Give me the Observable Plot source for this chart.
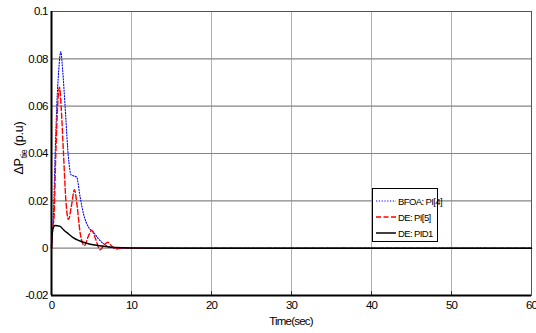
<!DOCTYPE html>
<html>
<head>
<meta charset="utf-8">
<script src="https://cdn.jsdelivr.net/npm/d3@7"></script>
<script src="https://cdn.jsdelivr.net/npm/@observablehq/plot@0.6"></script>
<style>
  html, body { margin: 0; padding: 0; background: #fff; }
  #wrap { position: relative; width: 536px; height: 333px; font-family: "Liberation Sans", Arial, sans-serif; }
  #wrap svg text { letter-spacing: -0.8px; }
  #wrap svg text.ylab { letter-spacing: -0.2px; }
  #legend { position: absolute; left: 372px; top: 188px; width: 66px; height: 54px; border: 1px solid #000; background: #fff; font-size: 9.5px; letter-spacing: -0.6px; box-sizing: border-box; white-space: nowrap; }
  #legend .row { position: absolute; left: 3px; height: 12px; display: flex; align-items: center; }
  #legend svg { display: block; margin-right: 2px; }
</style>
</head>
<body>
<div id="wrap"></div>
<script>
// ---- data ----
const seriesNames = ["BFOA: PI[4]", "DE: PI[5]", "DE: PID1"];

const tBFOA = [0, 0.25, 0.46, 0.66, 0.9, 1.16, 1.4, 1.7, 2.1, 2.45, 2.8, 3.15, 3.58, 4.0, 4.62, 5.24, 5.87, 6.5, 7.0, 7.5, 8.5, 10, 20, 30, 40, 50, 60];
const vBFOA = [0, 0.015, 0.040, 0.060, 0.075, 0.083, 0.075, 0.060, 0.039, 0.031, 0.0305, 0.030, 0.0216, 0.0145, 0.0089, 0.0068, 0.004, 0.0019, 0.0008, 0.0003, 0, 0, 0, 0, 0, 0, 0];

const tDE = [0, 0.15, 0.3, 0.54, 0.8, 1.0, 1.2, 1.5, 1.8, 2.12, 2.5, 2.87, 3.2, 3.6, 4.12, 4.6, 5.03, 5.5, 6.07, 6.5, 7.02, 7.5, 7.95, 9, 10, 20, 30, 40, 50, 60];
const vDE = [0, 0.009, 0.012, 0.040, 0.062, 0.068, 0.060, 0.040, 0.020, 0.0121, 0.018, 0.0247, 0.018, 0.006, 0.0011, 0.005, 0.0075, 0.004, -0.0007, 0.001, 0.0025, 0.001, -0.0003, 0, 0, 0, 0, 0, 0, 0];

const tPID = [0, 0.15, 0.46, 1.08, 1.5, 2.1, 2.7, 3.37, 4.0, 4.6, 5.4, 6.3, 7.0, 8.0, 10, 20, 30, 40, 50, 60];
const vPID = [0, 0.008, 0.0096, 0.0092, 0.0078, 0.0061, 0.0045, 0.0033, 0.0025, 0.0019, 0.0013, 0.0009, 0.0006, 0.0003, 0.0001, 0, 0, 0, 0, 0];

const xTicks = [0, 10, 20, 30, 40, 50, 60];
const yTicks = [-0.02, 0, 0.02, 0.04, 0.06, 0.08, 0.1];
const yGrid = [0, 0.02, 0.04, 0.06, 0.08];
const xGrid = [10, 20, 30, 40, 50];

const toRows = (ts, vs) => ts.map((t, i) => ({t, v: vs[i]}));
const bfoa = toRows(tBFOA, vBFOA);
const de = toRows(tDE, vDE);
const pid = toRows(tPID, vPID);

const styles = [
  {stroke: "#0000ff", strokeWidth: 1.1, dash: "1.2,1.6"},
  {stroke: "#ff0000", strokeWidth: 1.4, dash: "5,2.5"},
  {stroke: "#000000", strokeWidth: 1.5, dash: null}
];

const fmt = d => String(+d.toFixed(2));
const yMin = -0.02, yMax = 0.1;
const tickLen = (yMax - yMin) * 4 / 284;

const chart = Plot.plot({
  width: 536,
  height: 333,
  marginLeft: 51,
  marginRight: 5,
  marginTop: 11,
  marginBottom: 38,
  style: {fontFamily: "'Liberation Sans', Arial, sans-serif", fontSize: "11.5px", background: "#fff", color: "#000"},
  x: {domain: [0, 60], ticks: xTicks, tickFormat: fmt, label: null, tickSize: 0, tickPadding: 5},
  y: {domain: [yMin, yMax], ticks: yTicks, tickFormat: fmt, label: null, tickSize: 0, tickPadding: 4},
  marks: [
    Plot.ruleX(xGrid, {stroke: "#b0b0b0", strokeWidth: 1}),
    Plot.ruleY(yGrid, {stroke: "#858585", strokeWidth: 1.2}),
    Plot.frame({stroke: "#555", strokeWidth: 1}),
    Plot.ruleX(xGrid, {y1: yMin, y2: yMin + tickLen, stroke: "#333", strokeWidth: 1}),
    Plot.ruleX([0], {stroke: "#000", strokeWidth: 2}),
    Plot.ruleY([yMin], {stroke: "#000", strokeWidth: 2}),
    Plot.line(bfoa, {x: "t", y: "v", stroke: styles[0].stroke, strokeWidth: styles[0].strokeWidth, strokeDasharray: styles[0].dash, curve: "monotone-x"}),
    Plot.line(de, {x: "t", y: "v", stroke: styles[1].stroke, strokeWidth: styles[1].strokeWidth, strokeDasharray: styles[1].dash, curve: "monotone-x"}),
    Plot.line(pid, {x: "t", y: "v", stroke: styles[2].stroke, strokeWidth: styles[2].strokeWidth, curve: "monotone-x"})
  ]
});

const wrap = document.getElementById("wrap");
wrap.appendChild(chart);

// y-axis label with subscript
const svg = d3.select(chart);
const yl = svg.append("text")
  .attr("class", "ylab")
  .attr("transform", "translate(23,148) rotate(-90)")
  .attr("text-anchor", "middle")
  .attr("font-size", 12.5)
  .attr("fill", "#000");
yl.append("tspan").text("\u0394P");
yl.append("tspan").attr("font-size", 9).attr("dy", 3.5).text("tie");
yl.append("tspan").attr("dy", -3.5).text(" (p.u)");

// x-axis label
svg.append("text")
  .attr("x", 291)
  .attr("y", 325)
  .attr("text-anchor", "middle")
  .attr("font-size", 11.5)
  .attr("fill", "#000")
  .text("Time(sec)");

// legend
const legend = document.createElement("div");
legend.id = "legend";
seriesNames.forEach((name, i) => {
  const row = document.createElement("div");
  row.className = "row";
  row.style.top = (6 + i * 16) + "px";
  const s = styles[i];
  row.innerHTML = `<svg width="20" height="6"><line x1="0" x2="20" y1="3" y2="3" stroke="${s.stroke}" stroke-width="${s.strokeWidth}" ${s.dash ? `stroke-dasharray="${s.dash}"` : ""}/></svg><span>${name}</span>`;
  legend.appendChild(row);
});
wrap.appendChild(legend);
</script>
</body>
</html>
